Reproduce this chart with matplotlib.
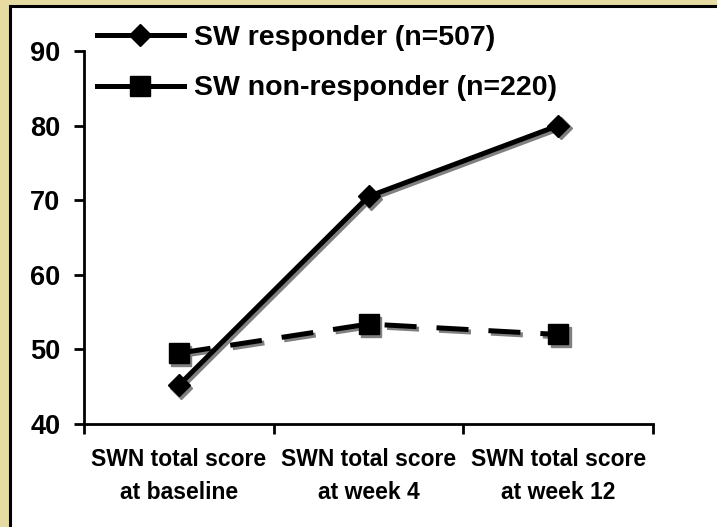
import matplotlib
matplotlib.use('Agg')
import matplotlib.pyplot as plt
from matplotlib.patches import Rectangle
from matplotlib.lines import Line2D
from matplotlib.transforms import offset_copy

plt.rcParams['font.family'] = ['Liberation Sans', 'DejaVu Sans']
plt.rcParams['font.weight'] = 'bold'

categories = ['SWN total score\nat baseline', 'SWN total score\nat week 4', 'SWN total score\nat week 12']
responder = [45.2, 70.5, 80.0]
non_responder = [49.5, 53.4, 52.0]
series_names = ['SW responder (n=507)', 'SW non-responder (n=220)']

fig = plt.figure(figsize=(7.17, 5.27), dpi=100)
fig.patch.set_facecolor('#E5DBA3')

# white panel with black border on left/top
panel = Rectangle((10 / 717, -0.05), 1.0, 1 - 6 / 527 + 0.05, transform=fig.transFigure,
                  facecolor='white', edgecolor='black', linewidth=2.2, zorder=-1)
fig.patches.append(panel)

ax = fig.add_axes([84 / 717, 1 - 424 / 527, (653 - 84) / 717, (424 - 51) / 527])
ax.set_facecolor('none')
ax.set_zorder(2)

x = list(range(len(categories)))
shadow = offset_copy(ax.transData, fig=fig, x=2.5, y=-2.5, units='dots')
lw = 3.6
dash = (6.4, 4.0)

# shadows
ax.plot(x, responder, color='#808080', lw=lw, marker='D', ms=11, mec='#808080',
        transform=shadow, zorder=2, clip_on=False)
ax.plot(x, non_responder, color='#808080', lw=lw, marker='s', ms=15, mec='#808080',
        dashes=dash, transform=shadow, zorder=2, clip_on=False)
# main lines
ax.plot(x, responder, color='black', lw=lw, marker='D', ms=11, zorder=3, clip_on=False)
ax.plot(x, non_responder, color='black', lw=lw, marker='s', ms=15, dashes=dash,
        zorder=3, clip_on=False)

ax.set_xlim(-0.5, 2.5)
ax.set_ylim(40, 90)
ax.set_yticks([40, 50, 60, 70, 80, 90])
ax.set_xticks([-0.5, 0.5, 1.5, 2.5])
ax.set_xticklabels([])
ax.set_xticks(x, minor=True)
ax.set_xticklabels(categories, minor=True, fontsize=16.5, fontweight='bold', linespacing=1.55)
ax.tick_params(axis='x', which='minor', length=0, pad=17.5)
ax.tick_params(axis='x', which='major', length=7, width=2, direction='out')
ax.tick_params(axis='y', length=7, width=2, direction='out', labelsize=19.5, pad=10)
for lab in ax.get_yticklabels():
    lab.set_fontweight('bold')

for s in ['top', 'right']:
    ax.spines[s].set_visible(False)
for s in ['left', 'bottom']:
    ax.spines[s].set_linewidth(2)

handles = [Line2D([], [], color='black', lw=lw, marker='D', ms=11),
           Line2D([], [], color='black', lw=lw, marker='s', ms=15)]
leg = ax.legend(handles, series_names, loc='upper left', bbox_to_anchor=(97 / 717, 1 - 25 / 527),
                bbox_transform=fig.transFigure, frameon=False, handlelength=3.05,
                handletextpad=0.35, labelspacing=0.86, borderpad=0, borderaxespad=0,
                prop={'size': 20.5, 'weight': 'bold'})

fig.savefig('out.png', dpi=100, facecolor=fig.get_facecolor())
